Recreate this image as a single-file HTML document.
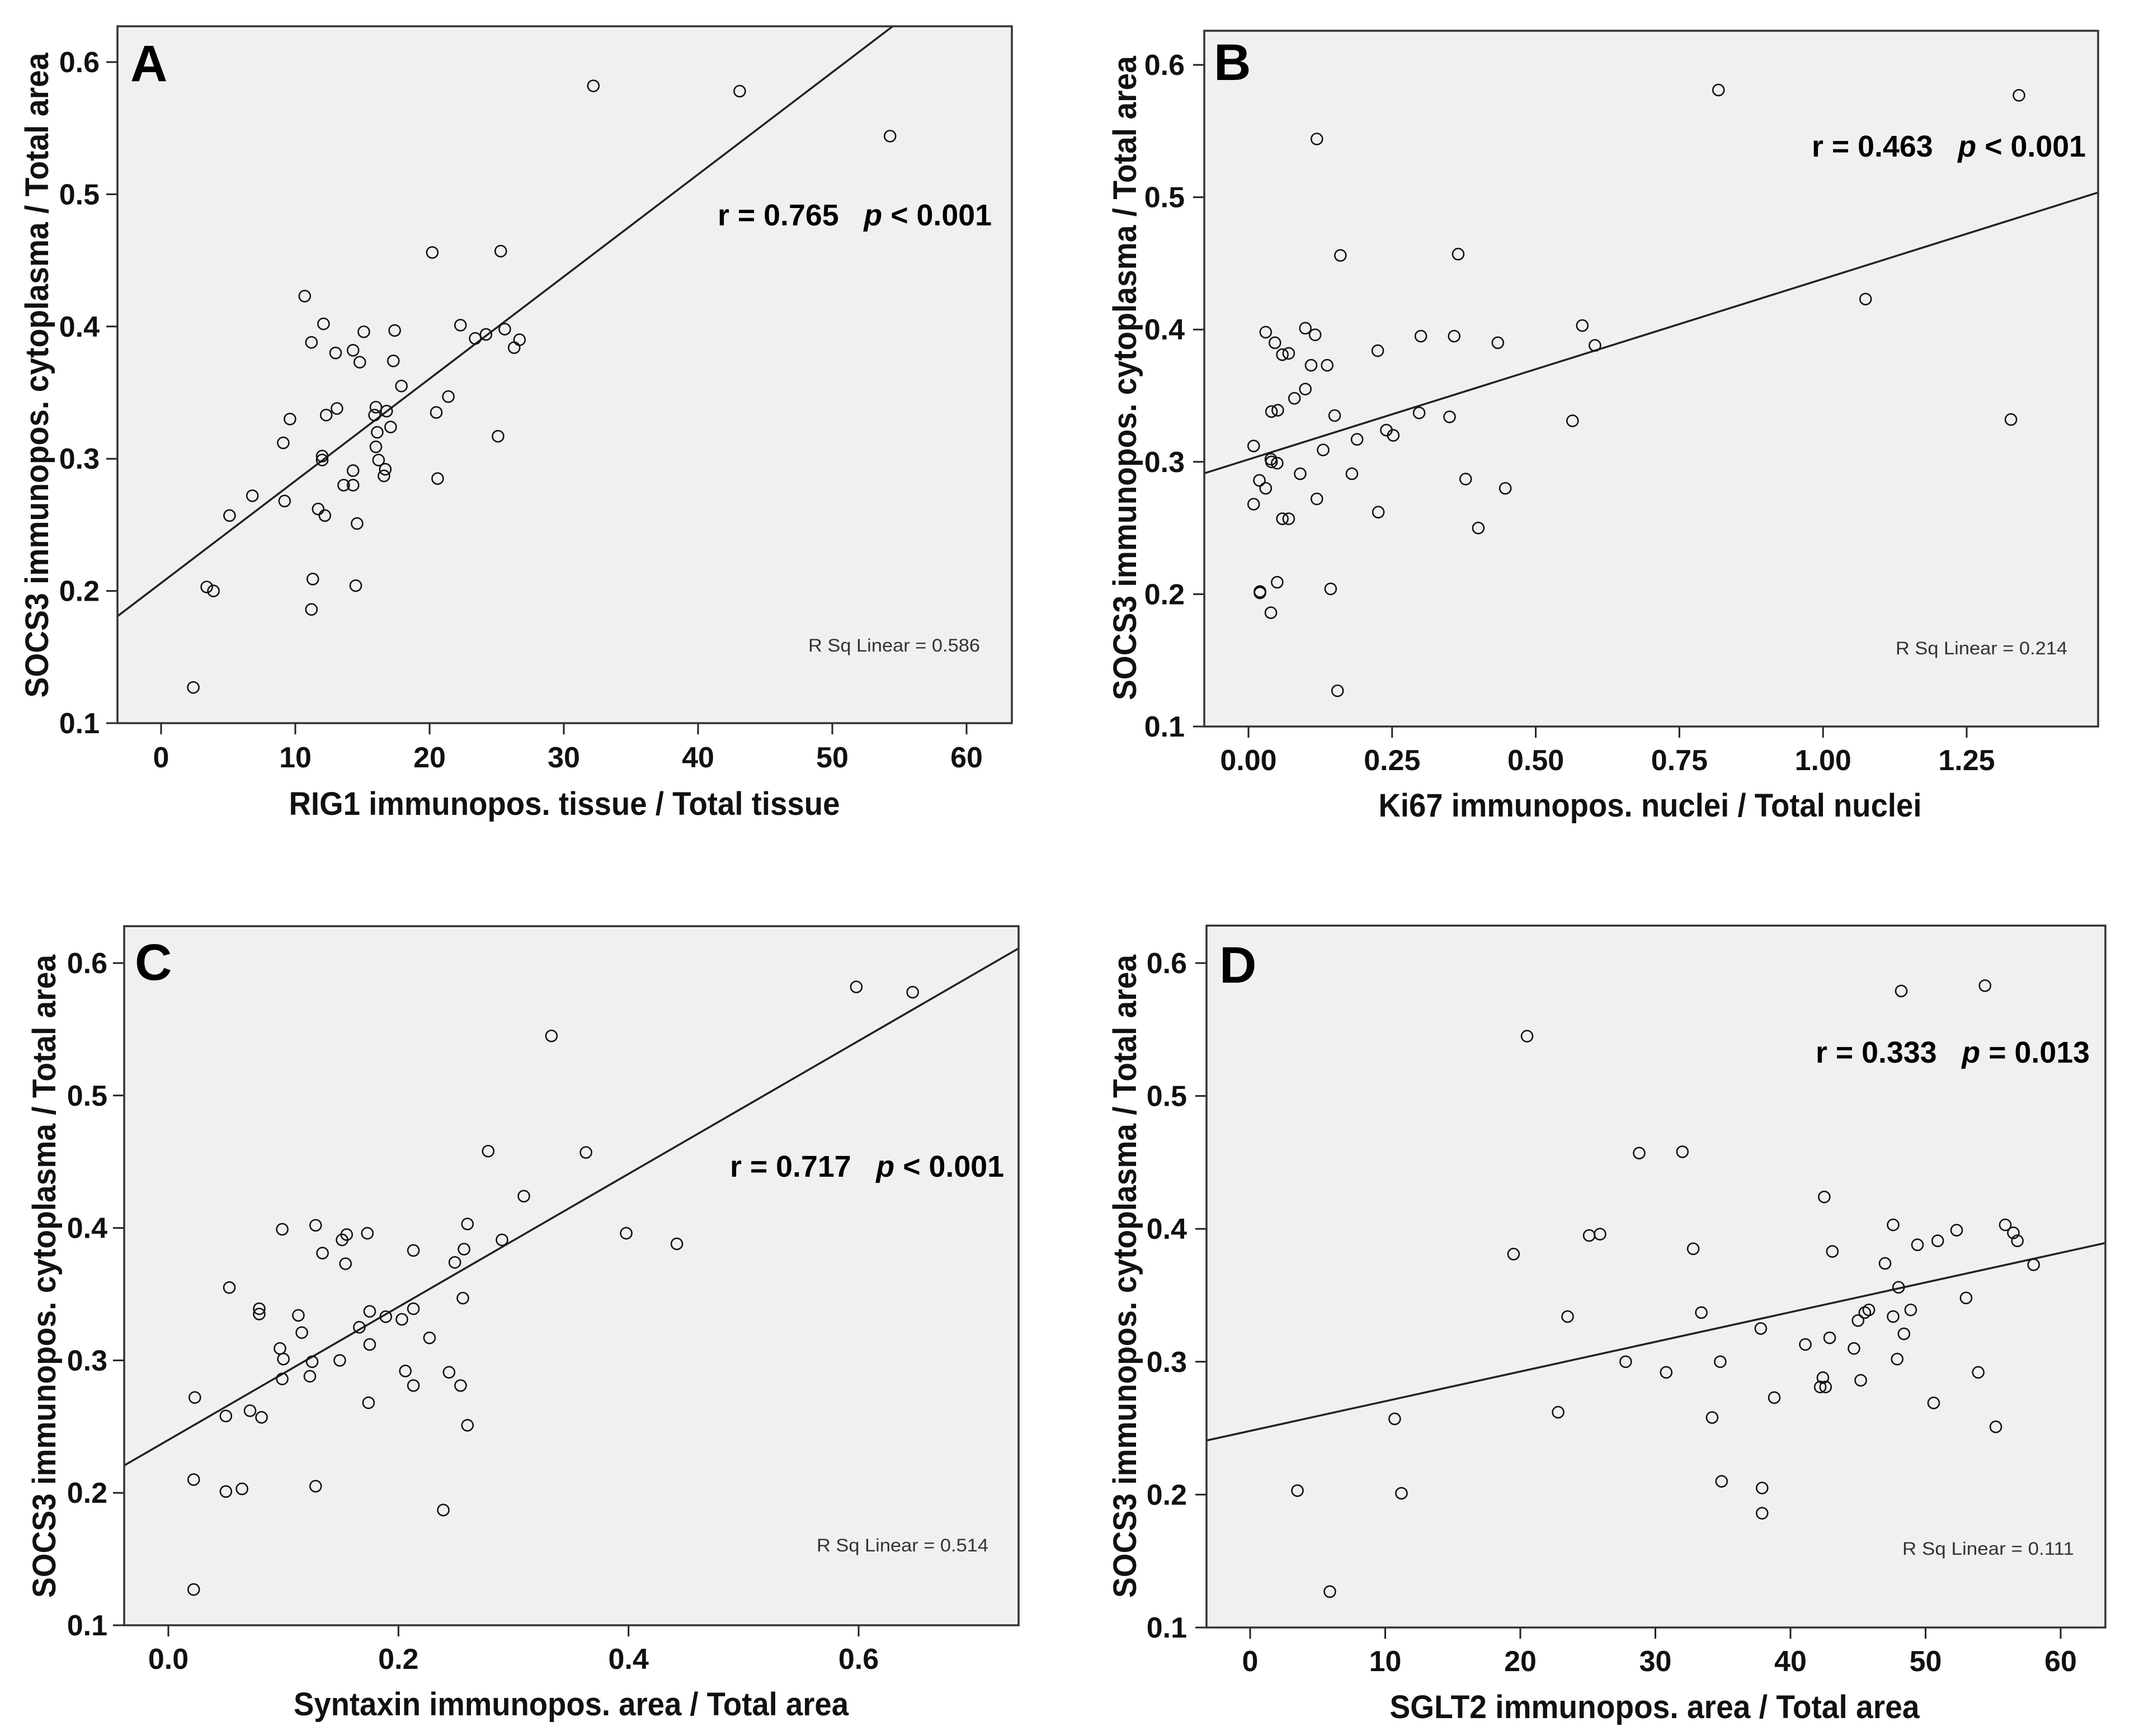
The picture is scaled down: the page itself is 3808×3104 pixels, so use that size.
<!DOCTYPE html>
<html><head><meta charset="utf-8">
<style>
html,body{margin:0;padding:0;background:#fff;}
svg{display:block;}
text{font-family:"Liberation Sans",Arial,sans-serif;}
.pre{white-space:pre;}
</style></head>
<body>
<svg id="fig" xmlns="http://www.w3.org/2000/svg" width="3808" height="3104" viewBox="0 0 3808 3104"></svg>
<script>
// ---- Data (y = SOCS3 immunopos. cytoplasma / Total area) ----
const aX = [32.2,43.1,54.3,20.2,25.3,10.7,12.1,11.2,13.0,14.3,14.8,15.1,17.4,17.3,17.9,22.3,23.4,24.2,25.6,26.7,26.3,21.4,20.5,16.0,15.9,16.8,17.1,16.1,16.0,16.2,16.7,16.6,25.1,20.6,9.6,9.1,13.1,12.3,12.0,12.0,14.3,13.6,14.3,9.2,6.8,5.1,11.7,12.2,14.6,3.4,3.9,11.3,14.5,11.2,2.4];
const aY = [0.582,0.578,0.544,0.456,0.457,0.423,0.402,0.388,0.380,0.382,0.373,0.396,0.397,0.374,0.355,0.401,0.391,0.394,0.398,0.390,0.384,0.347,0.335,0.339,0.333,0.336,0.324,0.320,0.309,0.299,0.292,0.287,0.317,0.285,0.330,0.312,0.338,0.333,0.302,0.299,0.291,0.280,0.280,0.268,0.272,0.257,0.262,0.257,0.251,0.203,0.200,0.209,0.204,0.186,0.127];
const bX = [0.818,1.341,0.119,0.160,0.365,1.074,0.581,0.603,1.327,0.030,0.046,0.099,0.116,0.059,0.070,0.109,0.137,0.225,0.300,0.358,0.434,0.099,0.080,0.040,0.051,0.150,0.297,0.350,0.564,0.240,0.252,0.189,0.130,0.009,0.039,0.040,0.050,0.090,0.180,0.378,0.447,0.019,0.030,0.009,0.119,0.226,0.059,0.070,0.400,0.020,0.020,0.050,0.143,0.039,0.155];
const bY = [0.581,0.577,0.544,0.456,0.457,0.423,0.403,0.388,0.332,0.398,0.390,0.401,0.396,0.381,0.382,0.373,0.373,0.384,0.395,0.395,0.390,0.355,0.348,0.338,0.339,0.335,0.337,0.334,0.331,0.324,0.320,0.317,0.309,0.312,0.302,0.300,0.299,0.291,0.291,0.287,0.280,0.286,0.280,0.268,0.272,0.262,0.257,0.257,0.250,0.202,0.201,0.209,0.204,0.186,0.127];
const cX = [0.598,0.647,0.333,0.278,0.363,0.309,0.398,0.442,0.099,0.128,0.151,0.155,0.173,0.134,0.154,0.213,0.260,0.257,0.249,0.290,0.256,0.053,0.079,0.079,0.113,0.116,0.175,0.189,0.203,0.213,0.166,0.175,0.227,0.097,0.100,0.125,0.149,0.099,0.123,0.206,0.213,0.244,0.254,0.023,0.050,0.071,0.081,0.174,0.260,0.022,0.050,0.064,0.128,0.239,0.022];
const cY = [0.582,0.578,0.545,0.458,0.457,0.424,0.396,0.388,0.399,0.402,0.391,0.395,0.396,0.381,0.373,0.383,0.403,0.384,0.374,0.391,0.347,0.355,0.339,0.335,0.334,0.321,0.337,0.333,0.331,0.339,0.325,0.312,0.317,0.309,0.301,0.299,0.300,0.286,0.288,0.292,0.281,0.291,0.281,0.272,0.258,0.262,0.257,0.268,0.251,0.210,0.201,0.203,0.205,0.187,0.127];
const dX = [3.5,5.9,10.7,11.2,20.5,19.5,23.5,22.8,25.1,25.9,28.8,32.0,32.8,27.8,30.8,33.4,34.8,34.2,34.9,37.9,37.9,37.8,38.8,41.1,42.4,42.2,42.6,42.9,42.5,43.1,44.7,45.0,45.5,45.8,45.2,47.0,47.6,47.6,48.0,48.4,47.9,48.9,48.2,49.4,50.9,52.3,53.0,50.6,53.9,54.4,55.2,55.9,56.5,56.8,58.0];
const dY = [0.203,0.127,0.257,0.201,0.545,0.381,0.334,0.262,0.395,0.396,0.457,0.458,0.385,0.300,0.292,0.337,0.300,0.258,0.210,0.205,0.186,0.325,0.273,0.313,0.288,0.281,0.281,0.318,0.424,0.383,0.310,0.331,0.337,0.339,0.286,0.374,0.403,0.334,0.356,0.321,0.302,0.339,0.579,0.388,0.391,0.399,0.348,0.269,0.292,0.583,0.251,0.403,0.397,0.391,0.373];
const yTicks = [0.1,0.2,0.3,0.4,0.5,0.6];
const yTickLabels = ["0.1","0.2","0.3","0.4","0.5","0.6"];
const aTicks = [0,10,20,30,40,50,60];
const aTickLabels = ["0","10","20","30","40","50","60"];
const bTicks = [0,0.25,0.5,0.75,1.0,1.25];
const bTickLabels = ["0.00","0.25","0.50","0.75","1.00","1.25"];
const cTicks = [0,0.2,0.4,0.6];
const cTickLabels = ["0.0","0.2","0.4","0.6"];
const dTicks = [0,10,20,30,40,50,60];
const dTickLabels = ["0","10","20","30","40","50","60"];
const stats = ["r = 0.765", "r = 0.463", "r = 0.717", "r = 0.333"];
const pStats = ["< 0.001", "< 0.001", "< 0.001", "= 0.013"];
const rsq = ["R Sq Linear = 0.586","R Sq Linear = 0.214","R Sq Linear = 0.514","R Sq Linear = 0.111"];

const NS = "http://www.w3.org/2000/svg";
const svg = document.getElementById('fig');
function mk(tag, attrs, parent){
  const e = document.createElementNS(NS, tag);
  for (const k in attrs) e.setAttribute(k, attrs[k]);
  (parent||svg).appendChild(e);
  return e;
}

const panels = [
  {id:'a', letter:'A', xs:aX, ys:aY, ticks:aTicks, tl:aTickLabels,
   box:[210,47,1809,1293], x0:[0,288], x1:[60,1728], y0:[0.1,1293], y1:[0.6,111],
   letterPos:[233,145], rPos:[1773,403], rsqPos:[1752,1165], yTitle:[66,671,1153], xTitle:[1009,1457,985],
   xTitleText:"RIG1 immunopos. tissue / Total tissue", tlBase:1372, ytlRight:178},
  {id:'b', letter:'B', xs:bX, ys:bY, ticks:bTicks, tl:bTickLabels,
   box:[2153,55,3751,1299], x0:[0,2232], x1:[1.25,3516], y0:[0.1,1299], y1:[0.6,116],
   letterPos:[2170,143], rPos:[3729,280], rsqPos:[3696,1170], yTitle:[2011,676,1152], xTitle:[2950,1460,971],
   xTitleText:"Ki67 immunopos. nuclei / Total nuclei", tlBase:1377, ytlRight:2118},
  {id:'c', letter:'C', xs:cX, ys:cY, ticks:cTicks, tl:cTickLabels,
   box:[222,1656,1821,2906], x0:[0,301], x1:[0.6,1535], y0:[0.1,2906], y1:[0.6,1722],
   letterPos:[241,1752], rPos:[1795,2104], rsqPos:[1767,2774], yTitle:[79,2282,1150], xTitle:[1021,3067,992],
   xTitleText:"Syntaxin immunopos. area / Total area", tlBase:2984, ytlRight:192},
  {id:'d', letter:'D', xs:dX, ys:dY, ticks:dTicks, tl:dTickLabels,
   box:[2157,1655,3764,2910], x0:[0,2235], x1:[60,3684], y0:[0.1,2910], y1:[0.6,1722],
   letterPos:[2180,1757], rPos:[3736,1900], rsqPos:[3708,2780], yTitle:[2011,2282,1150], xTitle:[2958,3072,947],
   xTitleText:"SGLT2 immunopos. area / Total area", tlBase:2988, ytlRight:2122}
];

const defs = mk('defs', {});
panels.forEach((p, idx) => {
  const g = mk('g', {});
  
  
  const sx = v => p.x0[1] + (v - p.x0[0]) * (p.x1[1] - p.x0[1]) / (p.x1[0] - p.x0[0]);
  const sy = v => p.y0[1] + (v - p.y0[0]) * (p.y1[1] - p.y0[1]) / (p.y1[0] - p.y0[0]);
  const [L,T,R,B] = p.box;

  const cp = mk('clipPath', {id:'clip-' + p.id}, defs);
  mk('rect', {x:L, y:T, width:R-L, height:B-T}, cp);

  const bg = mk('rect', {x:L, y:T, width:R-L, height:B-T, fill:'#f0f0f0', stroke:'none'}, g);
  
  

  yTicks.forEach((v,i) => {
    const t = mk('line', {x1:L-20, x2:L, y1:sy(v), y2:sy(v), stroke:'#222', 'stroke-width':3}, g);
    
    
    const tx = mk('text', {x:p.ytlRight, y:sy(v)+18, 'text-anchor':'end', 'font-size':52, 'font-weight':'bold', fill:'#111'}, g);
    tx.textContent = yTickLabels[i];
    
    
  });
  p.ticks.forEach((v,i) => {
    const t = mk('line', {x1:sx(v), x2:sx(v), y1:B, y2:B+20, stroke:'#222', 'stroke-width':3}, g);
    
    
    const tx = mk('text', {x:sx(v), y:p.tlBase, 'text-anchor':'middle', 'font-size':52, 'font-weight':'bold', fill:'#111'}, g);
    tx.textContent = p.tl[i];
    
    
  });

  const n = p.xs.length;
  let mx=0,my=0; for(let i=0;i<n;i++){mx+=p.xs[i];my+=p.ys[i];} mx/=n; my/=n;
  let sxy=0,sxx=0; for(let i=0;i<n;i++){sxy+=(p.xs[i]-mx)*(p.ys[i]-my); sxx+=(p.xs[i]-mx)*(p.xs[i]-mx);}
  const slope = sxy/sxx, icpt = my - slope*mx;
  const xa = p.x0[0] + (L - p.x0[1]) * (p.x1[0]-p.x0[0])/(p.x1[1]-p.x0[1]);
  const xb = p.x0[0] + (R - p.x0[1]) * (p.x1[0]-p.x0[0])/(p.x1[1]-p.x0[1]);
  const fl = mk('line', {x1:sx(xa), y1:sy(icpt+slope*xa), x2:sx(xb), y2:sy(icpt+slope*xb), stroke:'#222', 'stroke-width':3.5, 'clip-path':'url(#clip-' + p.id + ')'}, g);
  
  

  for (let i=0;i<n;i++){
    const c = mk('circle', {cx:sx(p.xs[i]), cy:sy(p.ys[i]), r:10, fill:'none', stroke:'#111', 'stroke-width':2.6}, g);
    
    
  }

  const fr = mk('rect', {x:L, y:T, width:R-L, height:B-T, fill:'none', stroke:'#333', 'stroke-width':3.5}, g);
  
  

  const lt = mk('text', {x:p.letterPos[0], y:p.letterPos[1], 'font-size':92, 'font-weight':'bold', fill:'#000'}, g);
  lt.textContent = p.letter;
  
  

  const rt = mk('text', {x:p.rPos[0], y:p.rPos[1], 'text-anchor':'end', 'font-size':54, 'font-weight':'bold', fill:'#000', 'class':'pre', textLength:490, lengthAdjust:'spacingAndGlyphs'}, g);
  const s1 = mk('tspan', {'class':'pre'}, rt); s1.textContent = stats[idx] + '   ';
  const s2 = mk('tspan', {'font-style':'italic'}, rt); s2.textContent = 'p';
  const s3 = mk('tspan', {'class':'pre'}, rt); s3.textContent = ' ' + pStats[idx];
  
  

  const rs = mk('text', {x:p.rsqPos[0], y:p.rsqPos[1], 'text-anchor':'end', 'font-size':32, fill:'#333', textLength:307, lengthAdjust:'spacingAndGlyphs'}, g);
  rs.textContent = rsq[idx];
  
  

  const yt = mk('text', {x:0, y:0, transform:'translate(' + (p.yTitle[0]+20) + ',' + p.yTitle[1] + ') rotate(-90)', 'text-anchor':'middle', 'font-size':58, 'font-weight':'bold', fill:'#111', textLength:p.yTitle[2], lengthAdjust:'spacingAndGlyphs'}, g);
  yt.textContent = 'SOCS3 immunopos. cytoplasma / Total area';
  
  

  const xt = mk('text', {x:p.xTitle[0], y:p.xTitle[1], 'text-anchor':'middle', 'font-size':58, 'font-weight':'bold', fill:'#111', textLength:p.xTitle[2], lengthAdjust:'spacingAndGlyphs'}, g);
  xt.textContent = p.xTitleText;
  
  
});
</script>
</body></html>
